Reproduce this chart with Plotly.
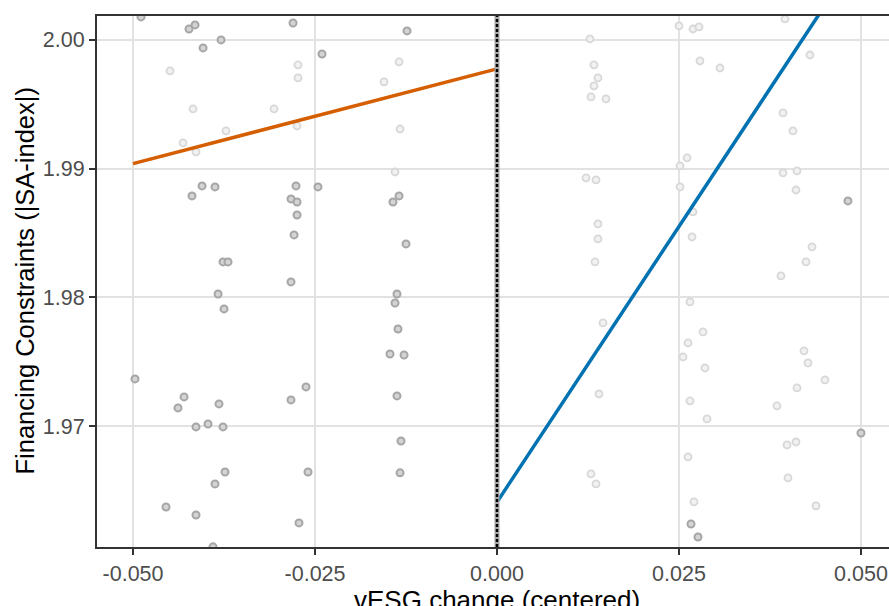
import plotly.graph_objects as go

# ---- data ----
cutoff = 0.0

dark_x = [-0.04890, -0.04231, -0.04148, -0.04038, -0.03791, -0.02802, -0.04052, -0.03874,
          -0.04190, -0.02761, -0.02830, -0.02747, -0.02747, -0.02788, -0.03764, -0.03695,
          -0.02830, -0.03832, -0.03750, -0.04973, -0.04299, -0.04382, -0.03819, -0.04135,
          -0.03970, -0.03764, -0.02830, -0.03736, -0.03874, -0.04547, -0.04135, -0.02720,
          -0.03901, -0.01236, -0.02404, -0.02459, -0.01346, -0.01429, -0.01250, -0.01374,
          -0.01401, -0.01360, -0.01470, -0.01277, -0.02624, -0.01374, -0.01319, -0.01332,
          -0.02596, 0.04821, 0.05000, 0.02665, 0.02761]
dark_y = [2.00179, 2.00085, 2.00117, 1.99938, 2.00000, 2.00132, 1.98866, 1.98858,
          1.98788, 1.98866, 1.98765, 1.98741, 1.98640, 1.98485, 1.98275, 1.98275,
          1.98120, 1.98026, 1.97910, 1.97366, 1.97226, 1.97141, 1.97172, 1.96993,
          1.97016, 1.96993, 1.97203, 1.96643, 1.96550, 1.96371, 1.96309, 1.96247,
          1.96061, 2.00070, 1.99891, 1.98858, 1.98788, 1.98741, 1.98415, 1.98026,
          1.97956, 1.97754, 1.97560, 1.97552, 1.97304, 1.97234, 1.96884, 1.96636,
          1.96643, 1.98749, 1.96946, 1.96239, 1.96138]

light_x = [-0.04492, -0.04176, -0.03063, -0.04313, -0.04135, -0.03723, -0.02734, -0.02734,
           -0.02747, -0.01346, -0.01552, -0.01332, -0.01401,
           0.01277, 0.01332, 0.01387, 0.01332, 0.01291, 0.01223, 0.01360, 0.01387, 0.01387,
           0.01346, 0.01401, 0.01456, 0.01291, 0.01360, 0.01497,
           0.02500, 0.02692, 0.02775, 0.03956, 0.02788, 0.03063, 0.04299, 0.03929, 0.04066,
           0.02610, 0.02514, 0.03929, 0.04121, 0.02514, 0.04107, 0.02692, 0.02679, 0.04327,
           0.04245, 0.03901, 0.02651, 0.02830, 0.02624, 0.02555, 0.02857, 0.04217, 0.04272,
           0.04505, 0.04121, 0.03846, 0.02651, 0.02885, 0.03984, 0.04107, 0.02624, 0.03997,
           0.02706, 0.04382]
light_y = [1.99759, 1.99464, 1.99464, 1.99200, 1.99130, 1.99293, 1.99806, 1.99705,
           1.99332, 1.99829, 1.99674, 1.99308, 1.98974,
           2.00008, 1.99806, 1.99705, 1.99643, 1.99557, 1.98928, 1.98912, 1.98570, 1.98454,
           1.98275, 1.97249, 1.97801, 1.96628, 1.96550, 1.99542,
           2.00109, 2.00085, 2.00101, 2.00163, 1.99837, 1.99782, 1.99883, 1.99433, 1.99293,
           1.99083, 1.99021, 1.98967, 1.98982, 1.98858, 1.98834, 1.98664, 1.98469, 1.98392,
           1.98275, 1.98166, 1.97964, 1.97731, 1.97646, 1.97537, 1.97451, 1.97584, 1.97490,
           1.97358, 1.97296, 1.97156, 1.97195, 1.97055, 1.96853, 1.96876, 1.96760, 1.96597,
           1.96410, 1.96379]

left_fit_x = [-0.05, 0.0]
left_fit_y = [1.99039, 1.99775]
right_fit_x = [0.0, 0.05]
right_fit_y = [1.96409, 2.00692]

x_tick_vals = [-0.05, -0.025, 0.0, 0.025, 0.05]
x_tick_text = ["-0.050", "-0.025", "0.000", "0.025", "0.050"]
y_tick_vals = [1.97, 1.98, 1.99, 2.00]

x_title = "vESG change (centered)"
y_title = "Financing Constraints (|SA-index|)"

FONT = "Liberation Sans, Arial, sans-serif"

fig = go.Figure()
fig.add_trace(go.Scatter(x=light_x, y=light_y, mode="markers",
                         marker=dict(symbol="circle", size=7, color="#f2f2f2",
                                     line=dict(width=1.8, color="#d8d8d8")),
                         showlegend=False, hoverinfo="skip"))
fig.add_trace(go.Scatter(x=dark_x, y=dark_y, mode="markers",
                         marker=dict(symbol="circle", size=7, color="#d4d4d4",
                                     line=dict(width=2, color="#a6a6a6")),
                         showlegend=False, hoverinfo="skip"))
fig.add_trace(go.Scatter(x=left_fit_x, y=left_fit_y, mode="lines",
                         line=dict(color="#D55E00", width=3.5), showlegend=False))
fig.add_trace(go.Scatter(x=right_fit_x, y=right_fit_y, mode="lines",
                         line=dict(color="#0072B2", width=3.5), showlegend=False))

fig.add_shape(type="line", xref="x", yref="paper", x0=cutoff, x1=cutoff, y0=0, y1=1,
              line=dict(color="#a8a8a8", width=5))
fig.add_shape(type="line", xref="x", yref="paper", x0=cutoff, x1=cutoff, y0=0, y1=1,
              line=dict(color="#000000", width=2.5, dash="3px,2px"))

fig.add_annotation(text=x_title, xref="x", yref="paper", x=0.0, y=0,
                   xanchor="center", yanchor="top", yshift=-36, showarrow=False,
                   font=dict(family=FONT, size=26, color="#000000"))
fig.add_annotation(text=y_title, xref="paper", yref="paper", x=0, y=0.5,
                   xanchor="center", yanchor="middle", xshift=-73, textangle=-90,
                   showarrow=False, font=dict(family=FONT, size=25.5, color="#000000"))

axis_common = dict(showgrid=True, gridcolor="#e2e2e2", gridwidth=2, zeroline=False,
                   showline=True, linecolor="#333333", linewidth=2,
                   ticks="outside", ticklen=6, tickwidth=2, tickcolor="#333333",
                   tickfont=dict(family=FONT, size=21.5, color="#4d4d4d"))

fig.update_xaxes(range=[-0.05495, 0.05385], tickvals=x_tick_vals, ticktext=x_tick_text,
                 mirror=True, **axis_common)
fig.update_yaxes(range=[1.96060, 2.00186], tickvals=y_tick_vals, tickformat=".2f",
                 mirror=False, **axis_common)

fig.update_layout(width=889, height=606, autosize=False,
                  margin=dict(l=97, r=0, t=16, b=59),
                  plot_bgcolor="white", paper_bgcolor="white",
                  font=dict(family=FONT))

fig.write_html("out.html")
